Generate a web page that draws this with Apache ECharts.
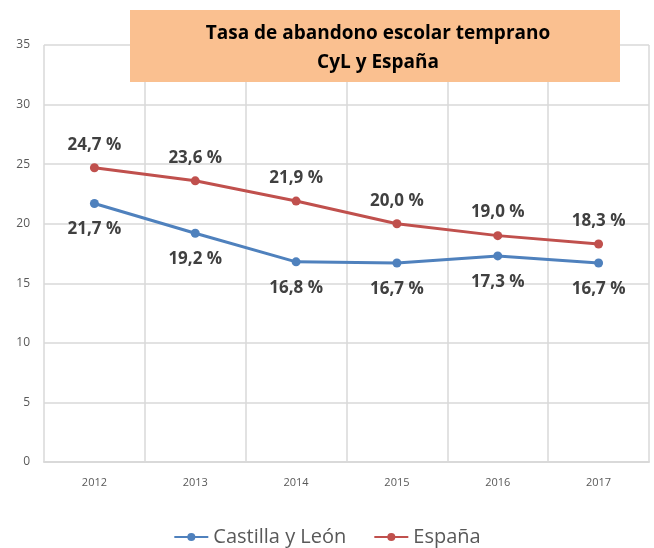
<!DOCTYPE html>
<html>
<head>
<meta charset="utf-8">
<script src="https://cdn.jsdelivr.net/npm/echarts@6/dist/echarts.min.js"></script>
<style>
  html, body { margin: 0; padding: 0; background: #fff; }
  #chart { width: 654px; height: 548px; }
</style>
</head>
<body>
<div id="chart"></div>
<script>
const years = ['2012', '2013', '2014', '2015', '2016', '2017'];
const cyl = [21.7, 19.2, 16.8, 16.7, 17.3, 16.7];
const espana = [24.7, 23.6, 21.9, 20.0, 19.0, 18.3];
const titleLines = ['Tasa de abandono escolar temprano', 'CyL y España'];

const fmt = p => p.value.toFixed(1).replace('.', ',') + ' %';
const font = '"Open Sans", "Liberation Sans", sans-serif';

let myChart = echarts.init(document.getElementById('chart'), null, { renderer: 'canvas' });
let option = {
    animation: false,
    textStyle: { fontFamily: font },
    grid: { left: 44, right: 5, top: 45, bottom: 86 },
    graphic: [
        {
            type: 'rect', z: 10,
            shape: { x: 130, y: 10, width: 490, height: 72 },
            style: { fill: '#FAC090' }
        },
        {
            type: 'text', z: 11,
            x: 378, y: 48,
            style: {
                text: titleLines.join('\n'),
                align: 'center', verticalAlign: 'middle',
                font: 'bold 19px ' + font,
                lineHeight: 29,
                fill: '#000'
            }
        }
    ],
    legend: {
        top: 522,
        left: 'center',
        itemWidth: 34,
        itemHeight: 10,
        itemGap: 27,
        textStyle: { fontSize: 20, color: '#595959', fontFamily: font },
        data: ['Castilla y León', 'España']
    },
    xAxis: {
        type: 'category',
        data: years,
        boundaryGap: true,
        axisLine: { lineStyle: { color: '#d9d9d9', width: 2 } },
        axisTick: { show: false },
        axisLabel: { color: '#595959', fontSize: 11, margin: 15 },
        splitLine: { show: true, interval: 0, lineStyle: { color: '#d9d9d9', width: 1.5 } }
    },
    yAxis: {
        type: 'value',
        min: 0, max: 35, interval: 5,
        axisLine: { show: false },
        axisTick: { show: false },
        axisLabel: { color: '#595959', fontSize: 12, margin: 14 },
        splitLine: { lineStyle: { color: '#d9d9d9', width: 1.5 } }
    },
    series: [
        {
            name: 'Castilla y León',
            type: 'line',
            data: cyl,
            symbol: 'circle',
            symbolSize: 9,
            color: '#4F81BD',
            lineStyle: { width: 3 },
            label: {
                show: true, position: 'bottom', distance: 13,
                formatter: fmt,
                fontSize: 17, fontWeight: 'bold', color: '#404040'
            }
        },
        {
            name: 'España',
            type: 'line',
            data: espana,
            symbol: 'circle',
            symbolSize: 9,
            color: '#C0504D',
            lineStyle: { width: 3 },
            label: {
                show: true, position: 'top', distance: 10,
                formatter: fmt,
                fontSize: 17, fontWeight: 'bold', color: '#404040'
            }
        }
    ]
};
option && myChart.setOption(option);
</script>
</body>
</html>
